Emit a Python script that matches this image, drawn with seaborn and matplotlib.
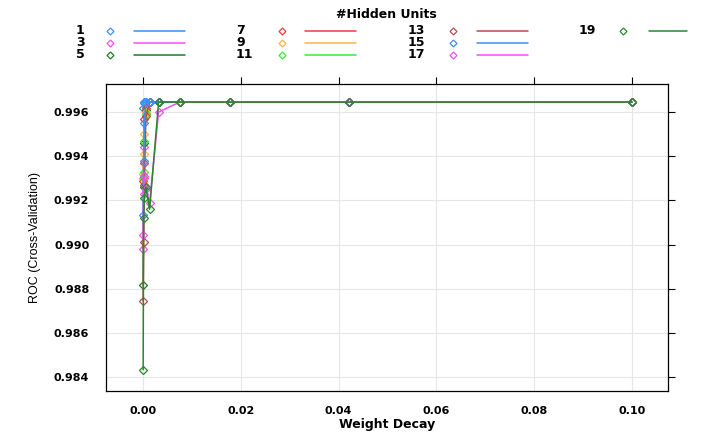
import matplotlib
matplotlib.use("Agg")
import matplotlib.pyplot as plt
from matplotlib.lines import Line2D
import seaborn as sns
import pandas as pd

# ---- data ----
decay = [0, 0.0001, 0.000237, 0.000562, 0.00133, 0.00316, 0.0075, 0.0178, 0.0422, 0.1]
hidden_units = [1, 3, 5, 7, 9, 11, 13, 15, 17, 19]
roc_1 = [0.9962, 0.9964, 0.99645, 0.99645, 0.99645, 0.99645, 0.99645, 0.99645, 0.99645, 0.99645]
roc_3 = [0.9898, 0.9930, 0.9944, 0.9960, 0.99645, 0.99645, 0.99645, 0.99645, 0.99645, 0.99645]
roc_5 = [0.98817, 0.9926, 0.9946, 0.9961, 0.99645, 0.99645, 0.99645, 0.99645, 0.99645, 0.99645]
roc_7 = [0.9929, 0.9937, 0.9957, 0.9962, 0.99645, 0.99645, 0.99645, 0.99645, 0.99645, 0.99645]
roc_9 = [0.9932, 0.9941, 0.9950, 0.9960, 0.99645, 0.99645, 0.99645, 0.99645, 0.99645, 0.99645]
roc_11 = [0.9930, 0.9933, 0.9947, 0.9959, 0.99645, 0.99645, 0.99645, 0.99645, 0.99645, 0.99645]
roc_13 = [0.98745, 0.9901, 0.9927, 0.9958, 0.99645, 0.99645, 0.99645, 0.99645, 0.99645, 0.99645]
roc_15 = [0.99134, 0.9938, 0.9955, 0.99645, 0.99645, 0.99645, 0.99645, 0.99645, 0.99645, 0.99645]
roc_17 = [0.99044, 0.9923, 0.9931, 0.9925, 0.9919, 0.9960, 0.99645, 0.99645, 0.99645, 0.99645]
roc_19 = [0.98433, 0.9912, 0.9921, 0.9926, 0.9916, 0.99645, 0.99645, 0.99645, 0.99645, 0.99645]
roc_all = [roc_1, roc_3, roc_5, roc_7, roc_9, roc_11, roc_13, roc_15, roc_17, roc_19]
xticks = [0.00, 0.02, 0.04, 0.06, 0.08, 0.10]
yticks = [0.984, 0.986, 0.988, 0.990, 0.992, 0.994, 0.996]

colors = ["#3d8ef5", "#f050f0", "#1f7a1f", "#f03a3a", "#ffb347",
          "#3ee83e", "#b84a4a", "#3d8ef5", "#f050f0", "#2a862a"]

sns.set_style("white")
plt.rcParams["font.family"] = ["Liberation Sans", "DejaVu Sans"]
plt.rcParams["text.color"] = "black"
plt.rcParams["axes.labelcolor"] = "black"
plt.rcParams["xtick.color"] = "black"
plt.rcParams["ytick.color"] = "black"

W, H = 703, 432
fig = plt.figure(figsize=(W / 100, H / 100), dpi=100)
L, R, T, B = 106, 668, 84, 391
ax = fig.add_axes([L / W, 1 - B / H, (R - L) / W, (B - T) / H])

for hu, vals, c in zip(hidden_units, roc_all, colors):
    df = pd.DataFrame({"decay": decay, "roc": vals})
    sns.lineplot(data=df, x="decay", y="roc", ax=ax, color=c, lw=1.1,
                 marker="D", markersize=3.8, markerfacecolor="none",
                 markeredgecolor=c, markeredgewidth=0.9, sort=False)

ax.set_xlim(-0.0076, 0.1074)
ax.set_ylim(0.98337, 0.99727)
ax.set_xticks(xticks)
ax.set_yticks(yticks)
tick_font = dict(family="DejaVu Sans", fontweight="bold", fontsize=8, color="black")
ax.set_xticklabels([f"{v:.2f}" for v in xticks], **tick_font)
ax.set_yticklabels([f"{v:.3f}" for v in yticks], **tick_font)
ax.grid(True, color="#e6e6e6", lw=0.8)
ax.set_axisbelow(True)
for s in ax.spines.values():
    s.set_color("black")
    s.set_linewidth(0.9)
ax.tick_params(axis="y", direction="out", length=5, width=0.8, right=True,
               labelright=False, colors="black", pad=7)
ax.tick_params(axis="x", direction="out", length=5, width=0.8, top=True,
               labeltop=False, colors="black", pad=6)
ax.set_xlabel("Weight Decay", family="DejaVu Sans", fontweight="bold",
              fontsize=9, labelpad=1, color="black")
ax.set_ylabel("ROC (Cross-Validation)", fontsize=9, labelpad=9, color="black")

# ---- legend (lattice style) ----
def fx(px):
    return px / W

def fy(py):
    return 1 - py / H

fig.text(fx(386), fy(14), "#Hidden Units", ha="center", va="center",
         family="DejaVu Sans", fontweight="bold", fontsize=9, color="black")
col_x = [(76, 110, 134, 185), (236, 282, 305, 356), (408, 453, 477, 528), (579, 623, 649, 687)]
row_y = [31, 43, 55]
for i, (hu, c) in enumerate(zip(hidden_units, colors)):
    col, row = divmod(i, 3)
    lx, mx, x0, x1 = col_x[col]
    y = row_y[row]
    fig.text(fx(lx), fy(y), str(hu), ha="left", va="center",
             family="DejaVu Sans", fontweight="bold", fontsize=9, color="black")
    fig.add_artist(Line2D([fx(mx)], [fy(y)], marker="D", markersize=3.5,
                          markerfacecolor="none", markeredgecolor=c,
                          markeredgewidth=0.9, linestyle="none"))
    fig.add_artist(Line2D([fx(x0), fx(x1)], [fy(y), fy(y)], color=c, lw=1.1))

fig.savefig("out.png", dpi=100)
